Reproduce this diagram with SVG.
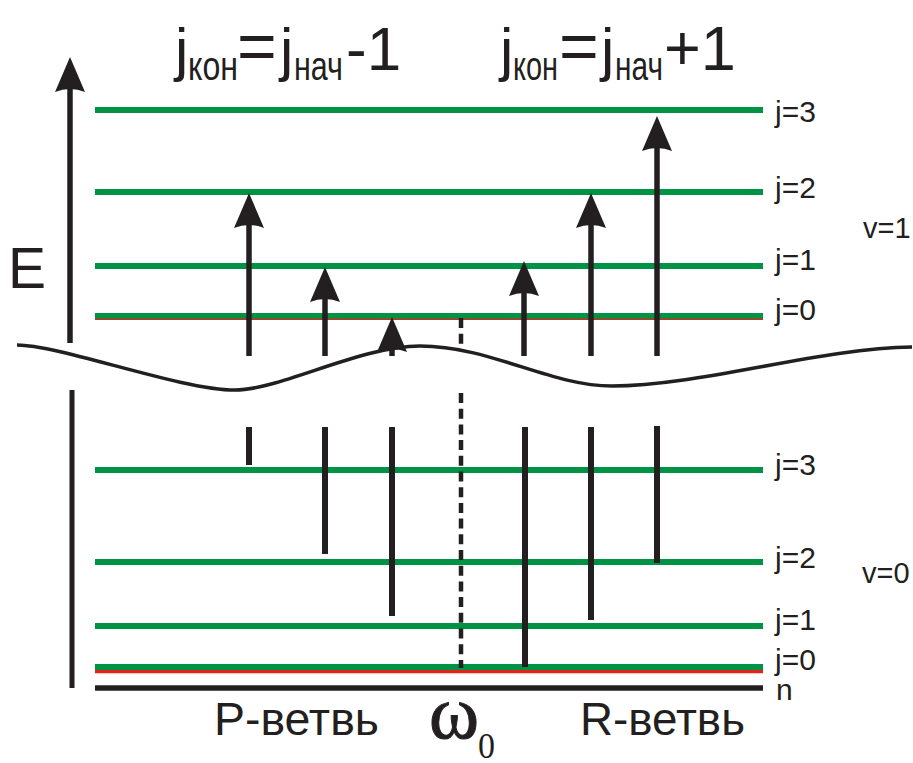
<svg xmlns="http://www.w3.org/2000/svg" xmlns:xlink="http://www.w3.org/1999/xlink" width="913" height="763" viewBox="0 0 913 763">
  <style>
    .lvl { stroke: #009245; stroke-width: 6; fill: none; }
    .red { stroke: #e2231a; fill: none; }
    .blk { stroke: #231f20; fill: none; }
    .shaft { stroke: #231f20; stroke-width: 5.5; fill: none; }
    .seg { stroke: #231f20; stroke-width: 6; fill: none; }
    .dash { stroke: #231f20; stroke-width: 4.5; stroke-dasharray: 10 5.7; fill: none; }
    text { font-family: "Liberation Sans", Arial, sans-serif; fill: #231f20; }
    .lbl { font-size: 30px; }
    .title { font-size: 60px; }
    .sub { font-size: 40px; }
    .br { font-size: 46px; }
    .om { font-family: "Liberation Serif", "Times New Roman", serif; }
  </style>
  <defs>
    <path id="head" d="M0,0 L15,35 Q0,29 -15,35 Z" fill="#231f20"/>
  </defs>

  <g id="title-p">
    <text class="title"><tspan x="175" y="70">j</tspan><tspan class="sub" x="188" y="80" textLength="50" lengthAdjust="spacingAndGlyphs">кон</tspan><tspan x="237" y="70" style="font-size:68px">=</tspan><tspan x="280" y="70">j</tspan><tspan class="sub" x="294" y="80" textLength="49" lengthAdjust="spacingAndGlyphs">нач</tspan><tspan x="346" y="70" style="font-size:62px">-1</tspan></text>
  </g>
  <g id="title-r">
    <text class="title"><tspan x="500" y="70">j</tspan><tspan class="sub" x="513" y="80" textLength="45" lengthAdjust="spacingAndGlyphs">кон</tspan><tspan x="559" y="70" style="font-size:68px">=</tspan><tspan x="601" y="70">j</tspan><tspan class="sub" x="615" y="80" textLength="48" lengthAdjust="spacingAndGlyphs">нач</tspan><tspan x="664" y="70" style="font-size:63px">+1</tspan></text>
  </g>

  <g id="axis-E">
    <line class="shaft" x1="70" y1="343" x2="70" y2="85"/>
    <use xlink:href="#head" x="70" y="57"/>
    <text x="8" y="288" style="font-size:57px">E</text>
  </g>
  <g id="axis-lower">
    <line class="blk" stroke-width="5" x1="72" y1="390" x2="72" y2="688"/>
  </g>

  <g id="levels-v1">
    <line class="lvl" x1="95" y1="110" x2="763" y2="110"/>
    <line class="lvl" x1="95" y1="192" x2="763" y2="192"/>
    <line class="lvl" x1="95" y1="266" x2="763" y2="266"/>
    <line class="lvl" x1="95" y1="316" x2="763" y2="316"/>
    <line class="red" stroke-width="1.2" x1="95" y1="319.4" x2="763" y2="319.4"/>
    <text class="lbl" x="775" y="122">j=3</text>
    <text class="lbl" x="775" y="198">j=2</text>
    <text class="lbl" x="775" y="270">j=1</text>
    <text class="lbl" x="775" y="320">j=0</text>
    <text class="lbl" x="863" y="238" style="font-size:29px">v=1</text>
  </g>

  <g id="levels-v0">
    <line class="lvl" x1="95" y1="470" x2="763" y2="470"/>
    <line class="lvl" x1="95" y1="562" x2="763" y2="562"/>
    <line class="lvl" x1="95" y1="626" x2="763" y2="626"/>
    <line class="lvl" x1="95" y1="667" x2="763" y2="667"/>
    <line class="red" stroke-width="3.4" x1="95" y1="671.6" x2="763" y2="671.6"/>
    <line class="blk" stroke-width="5.5" x1="95" y1="688" x2="763" y2="688"/>
    <text class="lbl" x="775" y="475">j=3</text>
    <text class="lbl" x="775" y="568">j=2</text>
    <text class="lbl" x="775" y="630">j=1</text>
    <text class="lbl" x="775" y="670">j=0</text>
    <text class="lbl" x="776" y="700">n</text>
    <text class="lbl" x="862" y="583" style="font-size:29px">v=0</text>
  </g>

  <g id="break">
    <path class="blk" stroke-width="3.5" d="M17,345 C60,345 180,390 235,390 C280,390 360,346 420,346 C490,346 550,386 612,386 C700,386 820,348 912,347"/>
  </g>

  <g id="connectors">
    <line class="dash" x1="461" y1="318" x2="461" y2="345"/>
    <line class="dash" x1="461" y1="393" x2="461" y2="668"/>

    <line class="shaft" x1="249" y1="356" x2="249" y2="225"/>
    <use xlink:href="#head" x="249" y="193"/>
    <line class="shaft" x1="325" y1="356" x2="325" y2="299"/>
    <use xlink:href="#head" x="325" y="267"/>
    <line class="shaft" x1="392" y1="356" x2="392" y2="349"/>
    <use xlink:href="#head" x="392" y="317"/>
    <line class="shaft" x1="524" y1="356" x2="524" y2="293"/>
    <use xlink:href="#head" x="524" y="261"/>
    <line class="shaft" x1="591" y1="356" x2="591" y2="225"/>
    <use xlink:href="#head" x="591" y="193"/>
    <line class="shaft" x1="657" y1="356" x2="657" y2="148"/>
    <use xlink:href="#head" x="657" y="116"/>

    <line class="seg" x1="249" y1="427" x2="249" y2="465"/>
    <line class="seg" x1="325" y1="427" x2="325" y2="554"/>
    <line class="seg" x1="392" y1="427" x2="392" y2="616"/>
    <line class="seg" x1="525" y1="427" x2="525" y2="667"/>
    <line class="seg" x1="591" y1="427" x2="591" y2="620"/>
    <line class="seg" x1="657" y1="426" x2="657" y2="563"/>
  </g>

  <g id="branch-labels">
    <text class="br" x="214" y="735" textLength="165" lengthAdjust="spacingAndGlyphs">P-ветвь</text>
    <text class="om" x="429" y="738" style="font-size:76px" stroke="#231f20" stroke-width="1">ω</text>
    <text class="om" x="478" y="758" style="font-size:36px" textLength="17" lengthAdjust="spacingAndGlyphs">0</text>
    <text class="br" x="580" y="735" textLength="165" lengthAdjust="spacingAndGlyphs">R-ветвь</text>
  </g>
</svg>
